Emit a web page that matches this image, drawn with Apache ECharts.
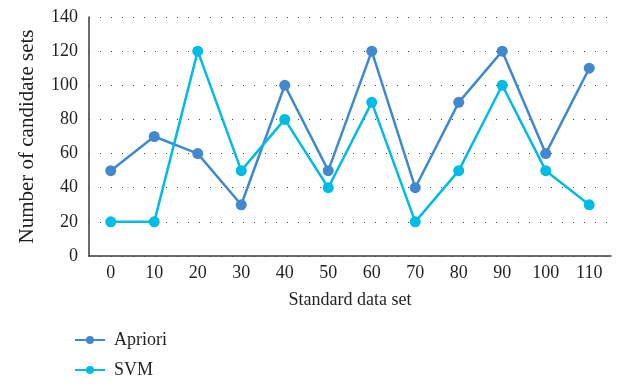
<!DOCTYPE html>
<html>
<head>
<meta charset="utf-8">
<script src="https://cdn.jsdelivr.net/npm/echarts@6/dist/echarts.min.js"></script>
<style>
  html, body { margin: 0; padding: 0; background: #fff; }
  #chart { width: 623px; height: 384px; }
</style>
</head>
<body>
<div id="chart"></div>
<script>
// Candidate set counts per standard data set
const categories = ['0', '10', '20', '30', '40', '50', '60', '70', '80', '90', '100', '110'];
const aprioriValues = [50, 70, 60, 30, 100, 50, 120, 40, 90, 120, 60, 110];
const svmValues = [20, 20, 120, 50, 80, 40, 90, 20, 50, 100, 50, 30];

const FONT = 'Liberation Serif';
const TEXT = '#231f20';

const chart = echarts.init(document.getElementById('chart'));
chart.setOption({
  animation: false,
  textStyle: { fontFamily: FONT },
  grid: { left: 89, right: 12, top: 17, bottom: 128 },
  legend: {
    orient: 'vertical',
    left: 74,
    top: 330,
    padding: 0,
    itemWidth: 30,
    itemHeight: 10,
    itemGap: 10,
    textStyle: { fontFamily: FONT, fontSize: 18, lineHeight: 20, color: TEXT, padding: [0, 0, 0, 4] },
    data: ['Apriori', 'SVM']
  },
  xAxis: {
    type: 'category',
    data: categories,
    boundaryGap: true,
    name: 'Standard data set',
    nameLocation: 'middle',
    nameGap: 35,
    nameTextStyle: { fontFamily: FONT, fontSize: 18, color: TEXT },
    axisLine: { lineStyle: { color: '#3a3a3a', width: 1.5 } },
    axisTick: { show: false },
    axisLabel: { fontFamily: FONT, fontSize: 18, color: TEXT, margin: 8 },
    splitLine: { show: false }
  },
  yAxis: {
    type: 'value',
    min: 0,
    max: 140,
    interval: 20,
    name: 'Number of candidate sets',
    nameLocation: 'middle',
    nameGap: 51,
    nameTextStyle: { fontFamily: FONT, fontSize: 21, color: TEXT },
    axisLine: { show: true, lineStyle: { color: '#3a3a3a', width: 1.5 } },
    axisTick: { show: false },
    axisLabel: { fontFamily: FONT, fontSize: 18, color: TEXT, margin: 11 },
    splitLine: { lineStyle: { color: '#444', width: 1, type: [1, 10] } }
  },
  series: [
    {
      name: 'Apriori',
      type: 'line',
      data: aprioriValues,
      symbol: 'circle',
      symbolSize: 11,
      color: '#4189cc',
      lineStyle: { width: 2.5, color: '#4189cc' },
      itemStyle: { color: '#4189cc' }
    },
    {
      name: 'SVM',
      type: 'line',
      data: svmValues,
      symbol: 'circle',
      symbolSize: 11,
      color: '#00bce4',
      lineStyle: { width: 2.5, color: '#00bce4' },
      itemStyle: { color: '#00bce4' }
    }
  ]
});
</script>
</body>
</html>
